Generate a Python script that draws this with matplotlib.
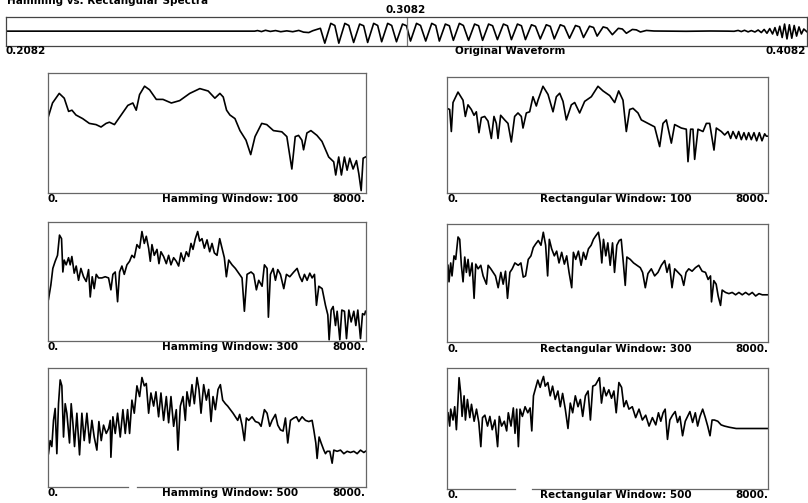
import matplotlib
matplotlib.use('Agg')
import matplotlib.pyplot as plt

plt.rcParams['font.family'] = 'DejaVu Sans'
plt.rcParams['font.weight'] = 'bold'

W, H = 808, 503

# original waveform: time in ms, amplitude (box half-height = 1)
wave_ms = [208.2, 270.3, 271.0, 272.0, 273.0, 274.2, 275.5, 276.8, 278.3, 279.8,
           281.3, 282.5, 283.8, 284.8, 285.8, 286.7,
           287.8, 289.3, 290.3, 291.3, 292.8, 293.8, 295.0, 296.5, 297.5,
           298.5, 300.0, 301.0, 302.0, 303.5, 304.5, 305.7, 307.2, 308.2,
           309.2, 310.7, 311.7, 313.0, 314.5, 315.5, 316.4, 317.9, 318.9,
           319.9, 321.4, 322.4, 323.7, 325.2, 326.2, 327.2, 328.7, 329.7,
           330.9, 332.4, 333.4, 334.4, 335.9, 336.9, 337.9, 339.4, 340.4,
           341.6, 343.1, 344.1, 345.1, 346.6, 347.6, 348.9, 350.4, 351.4,
           352.4, 353.9, 354.9, 355.8, 357.3, 358.3, 359.6, 361.1, 362.1,
           363.1, 364.6, 365.6, 366.6, 368.1,
           370.0, 378.0, 384.0, 388.5, 390.0, 391.0, 391.8, 392.6, 393.5, 394.3,
           395.2, 396.0, 396.8, 397.5, 398.2, 398.9, 399.6, 400.2, 400.8, 401.4,
           402.0, 402.6, 403.2, 403.8, 404.4, 405.0, 405.6, 406.2, 406.8, 407.4,
           408.2]
wave_amp = [0.0, 0.0, 0.04, -0.03, 0.06, -0.02, 0.04, -0.04, 0.02, -0.04,
            0.05, -0.07, -0.10, 0.03, 0.12, 0.2,
            -0.85, 0.55, 0.40, -0.85, 0.55, 0.40, -0.80, 0.50, 0.38,
            -0.80, 0.55, 0.40, -0.75, 0.55, 0.40, -0.75, 0.50, 0.38,
            -0.70, 0.55, 0.40, -0.70, 0.55, 0.40, -0.70, 0.50, 0.38,
            -0.65, 0.55, 0.40, -0.65, 0.50, 0.38, -0.65, 0.50, 0.38,
            -0.60, 0.50, 0.38, -0.60, 0.50, 0.38, -0.60, 0.45, 0.34,
            -0.55, 0.45, 0.34, -0.55, 0.45, 0.34, -0.50, 0.40, 0.30,
            -0.45, 0.35, 0.26, -0.35, 0.30, 0.22, -0.25, 0.20, 0.15,
            -0.15, 0.12, 0.09, -0.06, 0.05,
            0.01, -0.01, 0.01, 0.0, -0.01, 0.05, -0.03, 0.06, -0.05, 0.04,
            -0.06, 0.08, -0.1, 0.12, -0.15, 0.18, -0.2, 0.25, -0.3, 0.35,
            -0.45, 0.5, -0.55, 0.45, -0.5, 0.4, -0.35, 0.3, -0.2, 0.15,
            -0.05]

# spectra: frequency (Hz) and level (0..100 of panel height)
h100_f = [25, 126, 295, 421, 531, 615, 716, 884, 1053, 1221,
          1347, 1474, 1558, 1684, 1853, 2021, 2147, 2232, 2316, 2442,
          2568, 2737, 2905, 3116, 3326, 3579, 3832, 4042, 4211, 4337,
          4421, 4505, 4589, 4716, 4842, 4994, 5112, 5221, 5389, 5516,
          5684, 5895, 6021, 6147, 6232, 6316, 6400, 6442, 6526, 6627,
          6779, 6905, 7074, 7200, 7251, 7326, 7394, 7469, 7537, 7604,
          7688, 7773, 7832, 7891, 7941, 8000]
h100_db = [64, 75, 83, 79, 68, 69, 65, 62, 58, 57,
           55, 58, 59, 57, 65, 73, 75, 69, 82, 89,
           86, 78, 78, 75, 77, 83, 87, 85, 79, 83,
           80, 69, 65, 62, 52, 44, 32, 47, 58, 57,
           52, 51, 47, 20, 47, 48, 44, 36, 50, 52,
           48, 43, 30, 26, 15, 30, 15, 30, 19, 29,
           20, 27, 16, 2, 29, 30]

r100_f = [0, 66, 108, 150, 274, 399, 457, 523, 606, 673,
          731, 797, 856, 939, 1022, 1105, 1171, 1229, 1271, 1337,
          1437, 1520, 1603, 1686, 1769, 1852, 1894, 1977, 2060, 2143,
          2226, 2268, 2392, 2517, 2642, 2725, 2808, 2891, 2974, 3099,
          3182, 3306, 3431, 3597, 3763, 3888, 4054, 4178, 4278, 4386,
          4469, 4552, 4635, 4760, 4843, 5009, 5175, 5300, 5383, 5466,
          5591, 5674, 5840, 5964, 6006, 6072, 6130, 6172, 6255, 6380,
          6463, 6546, 6654, 6712, 6837, 6920, 7003, 7069, 7127, 7210,
          7269, 7335, 7401, 7460, 7518, 7584, 7651, 7717, 7784, 7850,
          7917, 7958, 8000]
r100_db = [73, 72, 53, 78, 87, 80, 66, 76, 72, 67,
           70, 52, 65, 66, 62, 47, 66, 60, 47, 67,
           63, 60, 44, 66, 69, 66, 56, 69, 70, 83,
           75, 80, 92, 85, 70, 83, 86, 79, 63, 76,
           78, 69, 79, 83, 92, 88, 84, 78, 88, 80,
           53, 72, 73, 69, 63, 60, 57, 40, 60, 63,
           43, 59, 56, 55, 27, 55, 55, 29, 55, 53,
           60, 60, 37, 56, 53, 50, 53, 47, 53, 47,
           53, 46, 52, 46, 52, 46, 52, 45, 52, 45,
           51, 49, 49]

h300_f = [25, 84, 134, 193, 252, 302, 353, 386, 420, 470,
          529, 571, 613, 672, 722, 781, 840, 907, 974, 1033,
          1075, 1125, 1175, 1226, 1284, 1368, 1452, 1536, 1595, 1645,
          1704, 1763, 1813, 1872, 1931, 1998, 2065, 2124, 2183, 2250,
          2317, 2376, 2435, 2485, 2544, 2586, 2628, 2686, 2754, 2804,
          2854, 2921, 2989, 3047, 3106, 3173, 3240, 3299, 3358, 3425,
          3492, 3551, 3610, 3660, 3719, 3778, 3828, 3887, 3946, 4013,
          4080, 4139, 4198, 4265, 4332, 4391, 4449, 4500, 4559, 4643,
          4726, 4810, 4894, 4953, 5020, 5121, 5188, 5255, 5314, 5398,
          5457, 5524, 5557, 5608, 5675, 5734, 5793, 5860, 5944, 6011,
          6095, 6196, 6280, 6347, 6405, 6464, 6531, 6599, 6657, 6716,
          6766, 6825, 6909, 6993, 7052, 7085, 7136, 7186, 7245, 7287,
          7354, 7404, 7471, 7522, 7581, 7639, 7706, 7757, 7807, 7874,
          7925, 7975, 8000]
h300_db = [35, 47, 61, 67, 72, 89, 86, 58, 68, 64,
           70, 64, 71, 57, 63, 51, 61, 54, 50, 60,
           37, 54, 44, 56, 53, 53, 54, 53, 43, 56,
           58, 33, 58, 63, 56, 64, 67, 72, 70, 81,
           78, 92, 82, 88, 78, 67, 81, 72, 77, 65,
           75, 71, 65, 72, 64, 70, 67, 63, 74, 67,
           75, 71, 82, 77, 86, 92, 84, 86, 78, 85,
           75, 82, 74, 72, 86, 78, 70, 54, 68, 64,
           61, 57, 53, 25, 56, 58, 56, 43, 51, 46,
           64, 61, 20, 56, 61, 51, 60, 56, 44, 56,
           54, 58, 61, 54, 50, 56, 51, 57, 53, 56,
           30, 46, 44, 30, 22, 1, 26, 29, 13, 25,
           1, 26, 25, 2, 26, 16, 25, 13, 26, 2,
           23, 22, 25]

r300_f = [25, 50, 92, 125, 175, 217, 275, 317, 358, 400,
          442, 483, 525, 567, 625, 675, 717, 775, 842, 900,
          983, 1025, 1092, 1150, 1208, 1275, 1342, 1400, 1458, 1508,
          1567, 1625, 1692, 1775, 1842, 1900, 1958, 2025, 2092, 2150,
          2208, 2275, 2342, 2400, 2458, 2508, 2550, 2608, 2675, 2733,
          2792, 2858, 2925, 2983, 3042, 3108, 3150, 3208, 3275, 3342,
          3400, 3458, 3525, 3592, 3650, 3708, 3775, 3817, 3858, 3900,
          3958, 4008, 4067, 4125, 4175, 4233, 4292, 4342, 4400, 4442,
          4483, 4567, 4650, 4733, 4817, 4875, 4942, 5008, 5092, 5175,
          5258, 5342, 5425, 5483, 5542, 5608, 5675, 5758, 5842, 5900,
          5958, 6025, 6108, 6192, 6275, 6358, 6442, 6508, 6567, 6592,
          6650, 6708, 6758, 6817, 6858, 6942, 7025, 7108, 7192, 7275,
          7358, 7442, 7525, 7608, 7692, 7775, 7858, 7942, 8000]
r300_db = [65, 51, 67, 56, 73, 70, 89, 87, 65, 51,
           72, 59, 70, 56, 67, 37, 66, 62, 65, 56,
           49, 65, 62, 59, 56, 46, 59, 49, 60, 37,
           59, 62, 67, 65, 67, 55, 56, 70, 73, 80,
           83, 86, 82, 93, 82, 56, 87, 79, 73, 77,
           67, 76, 66, 73, 59, 46, 76, 70, 77, 65,
           76, 70, 79, 82, 87, 90, 93, 84, 67, 87,
           73, 84, 65, 84, 59, 82, 86, 87, 65, 48,
           72, 70, 67, 65, 63, 59, 46, 58, 62, 56,
           59, 65, 69, 59, 66, 46, 62, 59, 56, 48,
           59, 62, 60, 63, 65, 60, 59, 53, 56, 34,
           52, 49, 39, 31, 44, 42, 41, 42, 40, 42,
           40, 42, 40, 42, 39, 41, 40, 40, 40]

h500_f = [25, 67, 109, 151, 193, 235, 277, 319, 361, 403,
          445, 487, 554, 596, 638, 680, 739, 806, 865, 923,
          991, 1058, 1117, 1175, 1242, 1293, 1352, 1410, 1478, 1536,
          1578, 1595, 1645, 1704, 1763, 1830, 1897, 1956, 2015, 2065,
          2124, 2183, 2250, 2317, 2376, 2435, 2485, 2544, 2602, 2670,
          2728, 2795, 2854, 2921, 2989, 3047, 3106, 3173, 3240, 3282,
          3341, 3408, 3467, 3509, 3576, 3635, 3694, 3761, 3811, 3862,
          3929, 3996, 4055, 4114, 4164, 4223, 4290, 4349, 4407, 4475,
          4533, 4600, 4668, 4726, 4785, 4835, 4894, 4953, 5003, 5062,
          5146, 5230, 5314, 5373, 5457, 5524, 5591, 5650, 5734, 5793,
          5860, 5927, 5986, 6044, 6112, 6196, 6263, 6322, 6405, 6489,
          6573, 6657, 6699, 6750, 6783, 6833, 6884, 6951, 6993, 7035,
          7102, 7161, 7203, 7287, 7371, 7455, 7539, 7623, 7706, 7790,
          7874, 7958, 8000]
h500_db = [28, 39, 34, 56, 66, 28, 70, 90, 85, 42,
           70, 62, 37, 70, 54, 34, 62, 27, 62, 39,
           62, 37, 56, 42, 31, 55, 39, 52, 45, 49,
           56, 25, 59, 45, 62, 42, 65, 45, 65, 45,
           73, 62, 85, 76, 92, 85, 87, 62, 79, 68,
           80, 59, 79, 56, 76, 54, 76, 51, 65, 31,
           68, 76, 56, 80, 68, 86, 70, 92, 82, 62,
           86, 73, 82, 55, 76, 65, 82, 86, 73, 70,
           68, 65, 62, 59, 56, 61, 52, 39, 58, 56,
           59, 55, 54, 51, 65, 62, 51, 56, 61, 52,
           48, 47, 58, 37, 56, 58, 59, 55, 59, 56,
           55, 56, 48, 37, 24, 42, 37, 31, 28, 30,
           30, 20, 31, 30, 31, 28, 30, 29, 30, 28,
           31, 29, 30]

r500_f = [25, 67, 92, 150, 192, 234, 276, 301, 342, 376,
          426, 459, 509, 568, 610, 676, 735, 793, 843, 885,
          944, 1010, 1069, 1127, 1194, 1261, 1303, 1361, 1428, 1487,
          1528, 1595, 1653, 1695, 1737, 1779, 1820, 1879, 1946, 2013,
          2071, 2113, 2155, 2196, 2263, 2322, 2363, 2405, 2447, 2514,
          2572, 2631, 2697, 2764, 2823, 2881, 2948, 3015, 3073, 3132,
          3198, 3265, 3324, 3382, 3449, 3516, 3574, 3633, 3700, 3766,
          3800, 3850, 3908, 3967, 4034, 4100, 4159, 4217, 4284, 4351,
          4409, 4468, 4534, 4618, 4702, 4785, 4869, 4952, 5036, 5119,
          5203, 5270, 5328, 5386, 5437, 5495, 5553, 5620, 5687, 5745,
          5804, 5871, 5938, 5996, 6054, 6121, 6188, 6246, 6305, 6372,
          6438, 6497, 6555, 6606, 6664, 6748, 6831, 6915, 7040, 7207,
          7374, 7541, 7708, 7875, 8000]
r500_db = [63, 52, 66, 57, 68, 49, 74, 92, 79, 60,
           77, 57, 74, 59, 70, 56, 66, 55, 35, 59,
           61, 52, 60, 49, 57, 35, 60, 52, 56, 48,
           63, 52, 67, 46, 66, 35, 66, 60, 68, 63,
           67, 48, 77, 82, 90, 84, 89, 93, 85, 88,
           77, 85, 74, 81, 68, 79, 66, 50, 71, 63,
           77, 68, 74, 60, 77, 81, 57, 85, 86, 90,
           92, 71, 84, 77, 82, 75, 81, 63, 88, 84,
           68, 73, 66, 68, 59, 66, 57, 61, 52, 59,
           53, 63, 56, 63, 66, 41, 57, 61, 64, 55,
           60, 44, 56, 60, 64, 55, 63, 52, 60, 66,
           59, 52, 44, 57, 57, 56, 53, 52, 51, 50,
           50, 50, 50, 50, 50]

FS = 7.5
fig = plt.figure(figsize=(W / 100, H / 100), dpi=100)


def rect(left, top, right, bottom):
    # pixel box -> figure fraction [l, b, w, h]
    return [left / W, 1 - bottom / H, (right - left) / W, (bottom - top) / H]


def style_box(ax, color):
    ax.set_xticks([])
    ax.set_yticks([])
    for s in ax.spines.values():
        s.set_color(color)
        s.set_linewidth(0.9)


# title (sits partly above the canvas)
fig.text(7 / W, 1 - 4 / H, 'Hamming vs. Rectangular Spectra', fontsize=FS,
         ha='left', va='baseline')

# waveform strip
ax = fig.add_axes(rect(6, 17, 807, 46))
ax.plot(wave_ms, wave_amp, color='black', lw=1.2)
ax.axvline(308.2, color='#777777', lw=0.9)
ax.set_xlim(208.2, 408.2)
ax.set_ylim(-1.05, 1.0)
style_box(ax, '#444444')
fig.text(406 / W, 1 - 10 / H, '0.3082', fontsize=FS, ha='center', va='center')
fig.text(6 / W, 1 - 51 / H, '0.2082', fontsize=FS, ha='left', va='center')
fig.text(510 / W, 1 - 51 / H, 'Original Waveform', fontsize=FS, ha='center', va='center')
fig.text(806 / W, 1 - 51 / H, '0.4082', fontsize=FS, ha='right', va='center')

panels = [
    ((47.5, 73, 365.5, 193), h100_f, h100_db, 'Hamming Window: 100', 298, None),
    ((447, 77, 768, 193), r100_f, r100_db, 'Rectangular Window: 100', 692, None),
    ((47.5, 222, 365.5, 341), h300_f, h300_db, 'Hamming Window: 300', 298, None),
    ((447, 224, 768, 342), r300_f, r300_db, 'Rectangular Window: 300', 692, None),
    ((47.5, 368, 365.5, 487), h500_f, h500_db, 'Hamming Window: 500', 298, (0.253, 0.281)),
    ((447, 368, 768, 489), r500_f, r500_db, 'Rectangular Window: 500', 692, (0.212, 0.265)),
]

for box, freqs, levels, caption, cap_x, gap in panels:
    left, top, right, bottom = box
    ax = fig.add_axes(rect(*box))
    ax.plot(freqs, levels, color='black', lw=1.2)
    ax.set_xlim(0, 8000)
    ax.set_ylim(0, 100)
    style_box(ax, '#666666')
    if gap is not None:
        # bottom edge drawn in two pieces
        ax.spines['bottom'].set_visible(False)
        ax.plot([0, gap[0]], [0, 0], color='#666666', lw=0.9,
                transform=ax.transAxes, clip_on=False)
        ax.plot([gap[1], 1], [0, 0], color='#666666', lw=0.9,
                transform=ax.transAxes, clip_on=False)
    ly = 1 - (bottom + 6.5) / H
    fig.text(left / W, ly, '0.', fontsize=FS, ha='left', va='center')
    fig.text(cap_x / W, ly, caption, fontsize=FS, ha='right', va='center')
    fig.text(right / W, ly, '8000.', fontsize=FS, ha='right', va='center')

fig.savefig('out.png', dpi=100)
